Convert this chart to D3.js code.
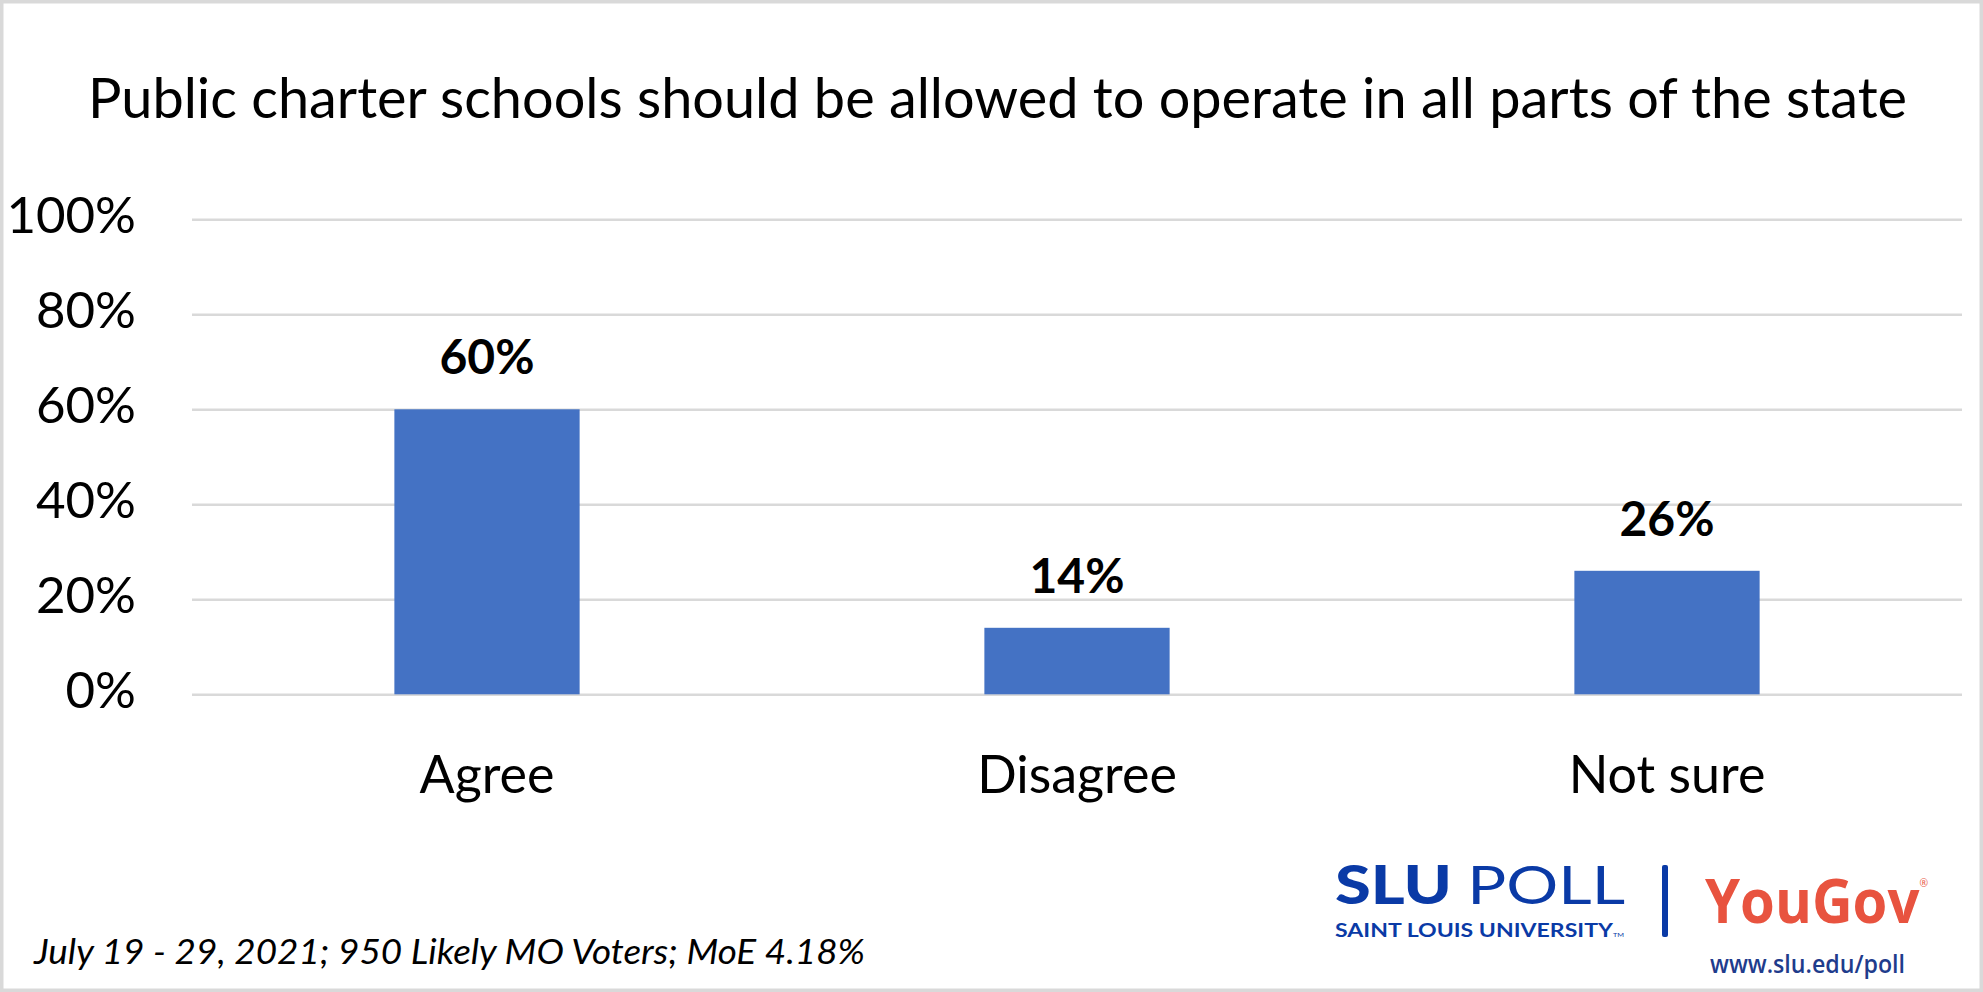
<!DOCTYPE html>
<html>
<head>
<meta charset="utf-8">
<script src="https://cdn.jsdelivr.net/npm/d3@7"></script>
<style>
  html, body { margin: 0; padding: 0; background: #fff; }
  svg { display: block; }
</style>
</head>
<body>
<svg id="chart" width="1983" height="992"></svg>
<script>
// ---- data ----
const categories = ["Agree", "Disagree", "Not sure"];
const values = [0.60, 0.14, 0.26];
const valueLabels = ["60%", "14%", "26%"];
const yTicks = [0, 0.2, 0.4, 0.6, 0.8, 1.0];
const titleText = "Public charter schools should be allowed to operate in all parts of the state";
const footnoteText = "July 19 - 29, 2021; 950 Likely MO Voters; MoE 4.18%";

// ---- layout ----
const W = 1983, H = 992;
const plot = { left: 192, right: 1962, top: 219.3, bottom: 694.3 };
const svg = d3.select("#chart");

// background + border
svg.append("rect").attr("x", 0).attr("y", 0).attr("width", W).attr("height", H).attr("fill", "#fff");
svg.append("rect").attr("x", 1.75).attr("y", 1.75).attr("width", W - 3.5).attr("height", H - 3.5)
  .attr("fill", "none").attr("stroke", "#d9d9d9").attr("stroke-width", 3.5);

const x = d3.scaleBand().domain(categories).range([plot.left, plot.right])
  .paddingInner(0.686).paddingOuter(0.343);
const y = d3.scaleLinear().domain([0, 1]).range([plot.bottom, plot.top]);

// title
svg.append("text")
  .attr("x", 88).attr("y", 118)
  .attr("textLength", 1819).attr("lengthAdjust", "spacingAndGlyphs")
  .attr("font-family", "Lato, 'Noto Sans', sans-serif")
  .attr("font-size", 57).attr("fill", "#000")
  .text(titleText);

// gridlines
const grid = svg.append("g").attr("transform", `translate(${plot.left},0)`)
  .call(d3.axisLeft(y).tickValues(yTicks).tickSize(-(plot.right - plot.left)).tickFormat(""));
grid.select(".domain").remove();
grid.selectAll(".tick line").attr("stroke", "#d9d9d9").attr("stroke-width", 2.6);

// y axis labels
const yAxis = svg.append("g").attr("transform", `translate(136,0)`)
  .call(d3.axisLeft(y).tickValues(yTicks).tickSize(0).tickPadding(0).tickFormat(d3.format(".0%")));
yAxis.select(".domain").remove();
yAxis.selectAll(".tick text")
  .attr("font-family", "Lato, sans-serif").attr("font-size", 51)
  .attr("fill", "#000").attr("dy", "0.26em");

// bars
svg.append("g").selectAll("rect").data(categories).join("rect")
  .attr("x", d => x(d))
  .attr("width", x.bandwidth())
  .attr("y", (d, i) => y(values[i]))
  .attr("height", (d, i) => y(0) - y(values[i]))
  .attr("fill", "#4472c4");

// value labels
svg.append("g").selectAll("text").data(categories).join("text")
  .attr("x", d => x(d) + x.bandwidth() / 2)
  .attr("y", (d, i) => y(values[i]) - 35)
  .attr("text-anchor", "middle")
  .attr("font-family", "Lato, sans-serif").attr("font-weight", 700)
  .attr("font-size", 48).attr("fill", "#000")
  .text((d, i) => valueLabels[i]);

// x axis labels
const xAxis = svg.append("g").attr("transform", `translate(0,793)`)
  .call(d3.axisBottom(x).tickSize(0).tickPadding(0));
xAxis.select(".domain").remove();
xAxis.selectAll(".tick text")
  .attr("font-family", "Lato, sans-serif").attr("font-size", 52)
  .attr("fill", "#000").attr("dy", 0).attr("y", 0);

// footnote
svg.append("text")
  .attr("x", 34).attr("y", 964)
  .attr("textLength", 831).attr("lengthAdjust", "spacingAndGlyphs")
  .attr("font-family", "Lato, sans-serif").attr("font-style", "italic")
  .attr("font-size", 35).attr("fill", "#000")
  .text(footnoteText);

// logo block
const logo = svg.append("g");
const sluBlue = "#0a3aa6";
const slu = logo.append("text").attr("x", 1335).attr("y", 904)
  .attr("textLength", 290).attr("lengthAdjust", "spacingAndGlyphs")
  .attr("font-family", "Lato, sans-serif").attr("font-size", 53).attr("fill", sluBlue);
slu.append("tspan").attr("font-weight", 900).text("SLU ");
slu.append("tspan").attr("font-weight", 400).text("POLL");

const univ = logo.append("text").attr("x", 1335).attr("y", 937)
  .attr("textLength", 289).attr("lengthAdjust", "spacingAndGlyphs")
  .attr("font-family", "Lato, sans-serif").attr("font-size", 19).attr("font-weight", 700)
  .attr("fill", sluBlue);
univ.append("tspan").text("SAINT LOUIS UNIVERSITY");
univ.append("tspan").attr("font-size", 6).attr("font-weight", 400).text("TM");

logo.append("rect").attr("x", 1662).attr("y", 865).attr("width", 6).attr("height", 72)
  .attr("rx", 2).attr("fill", sluBlue);

const yg = logo.append("text").attr("x", 1705).attr("y", 923)
  .attr("textLength", 223).attr("lengthAdjust", "spacingAndGlyphs")
  .attr("font-family", "'Open Sans', Lato, sans-serif").attr("font-weight", 700)
  .attr("font-size", 60).attr("fill", "#e8533f");
yg.append("tspan").text("YouGov");
yg.append("tspan").attr("font-size", 11).attr("font-weight", 400).attr("dy", -36).text("®");

logo.append("text").attr("x", 1710).attr("y", 973)
  .attr("textLength", 195).attr("lengthAdjust", "spacingAndGlyphs")
  .attr("font-family", "'Open Sans', Lato, sans-serif").attr("font-weight", 600)
  .attr("font-size", 26).attr("fill", "#1f3c8c").text("www.slu.edu/poll");
</script>
</body>
</html>
